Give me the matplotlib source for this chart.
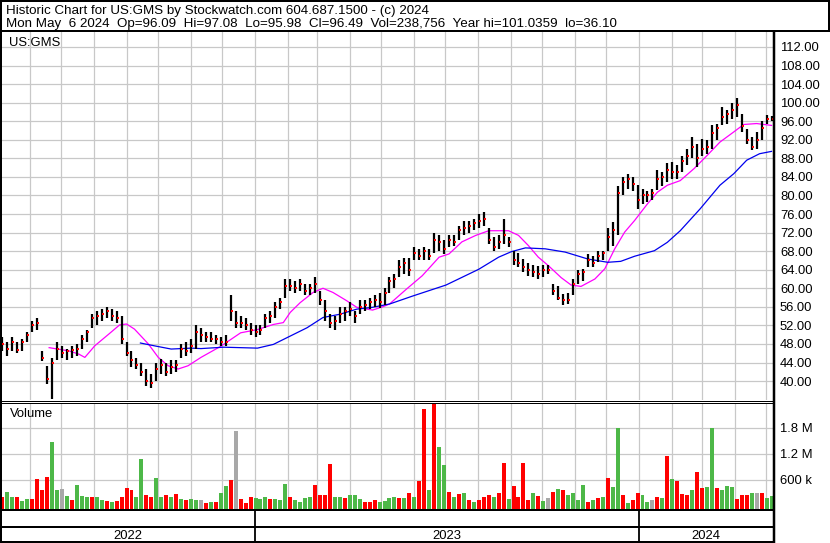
import numpy as np
import pandas as pd
import matplotlib
matplotlib.use('Agg')
import matplotlib.pyplot as plt

plt.rcParams['font.family'] = ['Liberation Sans', 'DejaVu Sans']

W, H = 830, 543

title_1 = 'Historic Chart for US:GMS by Stockwatch.com 604.687.1500 - (c) 2024'
title_2 = ('Mon May  6 2024  Op=96.09  Hi=97.08  Lo=95.98  Cl=96.49  '
           'Vol=238,756  Year hi=101.0359  lo=36.10')
symbol = 'US:GMS'
start_date = '2022-05-06'
end_date = '2024-05-06'

# price bars (every few sessions)
lows = [46.5, 45.5, 46.5, 46.0, 46.5, 48.5, 50.5, 51.0, 44.4, 39.3,
        36.1, 44.5, 45.0, 44.5, 45.0, 45.5, 47.0, 48.5, 51.5, 52.0,
        53.0, 53.5, 53.0, 52.5, 48.0, 45.5, 43.0, 42.5, 41.0, 39.0,
        38.4, 40.0, 41.5, 41.0, 41.5, 42.0, 45.0, 45.5, 46.0, 47.0,
        48.5, 48.5, 48.5, 48.0, 47.5, 47.5, 53.0, 51.5, 51.5, 51.0,
        50.0, 49.5, 50.0, 51.5, 52.5, 53.5, 55.5, 58.0, 59.5, 59.0,
        59.5, 58.5, 58.5, 59.0, 56.5, 53.0, 51.5, 51.0, 52.5, 53.0,
        54.0, 52.5, 54.5, 55.0, 55.5, 56.0, 55.8, 56.5, 59.0, 60.0,
        62.5, 63.0, 62.7, 66.0, 66.0, 66.0, 66.0, 67.5, 68.0, 67.4,
        69.0, 69.2, 70.5, 71.5, 72.0, 72.5, 73.0, 73.5, 69.5, 68.0,
        68.5, 69.5, 69.0, 65.0, 64.5, 63.5, 62.7, 62.5, 62.0, 62.5,
        63.0, 58.5, 57.5, 56.5, 56.7, 58.5, 61.0, 61.5, 64.5, 64.5,
        65.6, 66.0, 68.0, 69.2, 71.4, 80.0, 81.4, 81.0, 77.1, 78.2,
        78.5, 79.0, 81.1, 82.0, 82.9, 83.5, 83.6, 85.0, 86.5, 88.0,
        86.1, 88.6, 89.0, 90.1, 92.0, 95.1, 95.5, 96.5, 97.0, 93.7,
        91.0, 89.7, 90.0, 91.9, 95.5, 95.98]
highs = [49.5, 48.5, 49.5, 48.5, 49.0, 50.5, 53.0, 53.5, 46.5, 43.3,
         45.0, 48.5, 47.5, 47.0, 47.5, 48.0, 50.0, 51.0, 54.5, 55.0,
         55.5, 56.0, 55.5, 55.0, 54.0, 48.5, 46.5, 45.0, 44.0, 42.5,
         41.5, 44.0, 44.7, 44.0, 44.5, 44.5, 48.0, 48.5, 49.0, 52.0,
         51.5, 50.5, 50.5, 50.0, 49.5, 50.0, 58.5, 55.0, 54.0, 53.5,
         52.5, 52.0, 52.0, 54.5, 55.0, 57.0, 58.0, 62.0, 62.0, 61.5,
         62.0, 61.0, 61.0, 62.5, 59.5, 57.5, 54.5, 54.0, 56.0, 56.0,
         57.0, 55.0, 57.5, 57.5, 58.0, 58.5, 59.0, 60.0, 62.5, 63.0,
         66.0, 66.5, 66.5, 69.0, 68.5, 69.0, 68.5, 72.0, 71.5, 70.5,
         71.5, 71.5, 73.5, 74.5, 74.5, 75.0, 76.0, 76.4, 73.0, 71.0,
         71.5, 75.0, 71.0, 68.0, 67.5, 66.3, 65.5, 65.0, 64.9, 65.0,
         65.0, 61.0, 60.5, 58.7, 59.0, 62.0, 64.0, 64.2, 67.4, 67.0,
         68.1, 68.0, 73.0, 74.2, 82.0, 84.0, 84.7, 84.0, 82.2, 81.4,
         81.0, 81.4, 85.4, 85.0, 87.0, 87.2, 86.5, 88.5, 90.0, 92.6,
         91.0, 92.2, 92.0, 95.1, 95.5, 99.1, 98.5, 100.0, 101.0, 97.6,
         94.4, 92.5, 93.7, 96.0, 97.3, 97.08]
closes = [48.0, 47.0, 48.5, 46.8, 48.5, 50.0, 52.0, 52.5, 45.0, 40.5,
          44.0, 47.0, 46.0, 46.5, 46.8, 47.0, 49.0, 50.5, 53.5, 54.0,
          54.5, 55.0, 54.0, 53.5, 49.0, 46.0, 44.5, 43.5, 42.0, 40.0,
          39.5, 42.5, 43.5, 42.0, 43.0, 43.5, 47.0, 46.5, 47.5, 50.5,
          50.0, 49.5, 49.0, 49.0, 48.5, 48.5, 55.0, 52.5, 52.5, 52.0,
          51.0, 50.5, 51.0, 53.5, 54.0, 56.0, 57.0, 60.5, 60.5, 60.0,
          61.0, 59.5, 60.0, 61.0, 57.5, 55.0, 52.5, 53.0, 54.5, 55.0,
          55.5, 54.0, 56.0, 56.5, 57.0, 57.5, 57.0, 59.0, 61.5, 62.0,
          64.5, 65.5, 64.0, 67.5, 67.0, 68.0, 67.0, 70.5, 70.0, 68.5,
          70.5, 70.0, 72.5, 73.0, 73.5, 74.0, 74.5, 75.0, 70.5, 69.0,
          70.0, 71.5, 70.0, 66.0, 65.5, 64.5, 64.0, 63.5, 63.0, 64.0,
          64.0, 59.5, 58.0, 57.5, 57.5, 61.0, 63.0, 63.5, 66.0, 65.5,
          67.0, 67.5, 71.0, 72.5, 80.5, 83.0, 83.5, 82.5, 79.0, 80.0,
          80.0, 80.5, 83.5, 84.0, 85.5, 85.0, 85.0, 87.5, 88.5, 90.5,
          88.0, 90.0, 90.5, 93.5, 94.5, 97.0, 97.5, 98.5, 99.5, 95.0,
          92.0, 90.5, 92.0, 94.5, 96.5, 96.49]

# volume in millions, and direction of the day (g up, r down, n unchanged)
volumes = [0.20, 0.33, 0.20, 0.20, 0.12, 0.15, 0.15, 0.62, 0.37, 0.67,
           1.48, 0.37, 0.39, 0.22, 0.14, 0.48, 0.22, 0.20, 0.20, 0.20,
           0.13, 0.12, 0.10, 0.12, 0.20, 0.41, 0.37, 0.20, 1.08, 0.25,
           0.20, 0.64, 0.20, 0.25, 0.20, 0.28, 0.15, 0.14, 0.15, 0.14,
           0.14, 0.08, 0.10, 0.10, 0.30, 0.45, 0.60, 1.72, 0.16, 0.07,
           0.20, 0.18, 0.16, 0.20, 0.17, 0.16, 0.14, 0.50, 0.20, 0.14,
           0.10, 0.18, 0.20, 0.48, 0.25, 0.25, 0.97, 0.20, 0.20, 0.18,
           0.25, 0.25, 0.16, 0.10, 0.10, 0.14, 0.10, 0.12, 0.18, 0.20,
           0.18, 0.19, 0.29, 0.20, 0.58, 2.23, 0.38, 2.40, 1.36, 0.94,
           0.33, 0.20, 0.27, 0.30, 0.14, 0.10, 0.14, 0.20, 0.25, 0.20,
           0.29, 1.00, 0.15, 0.45, 0.20, 1.00, 0.14, 0.30, 0.22, 0.12,
           0.19, 0.33, 0.39, 0.36, 0.25, 0.29, 0.14, 0.48, 0.10, 0.14,
           0.18, 0.20, 0.64, 0.43, 1.80, 0.25, 0.07, 0.14, 0.29, 0.25,
           0.10, 0.14, 0.20, 0.18, 1.15, 0.62, 0.58, 0.28, 0.25, 0.37,
           0.79, 0.41, 0.43, 1.80, 0.41, 0.37, 0.45, 0.43, 0.17, 0.25,
           0.25, 0.29, 0.29, 0.29, 0.18, 0.24]
vol_dir = ''.join(['rggrggrrrr', 'ggngrgggrg', 'grgrrrrggr', 'rggrgrgrgg',
                   'nrgrggrnrr', 'rgggrgggrg', 'gggrrrrggr', 'gggrrrgggg',
                   'rgrgrrgrgg', 'rgrgrgrrrg', 'rrgrrrrgrg', 'nrgrggggrg',
                   'rgrggrgrrg', 'gnrgrgrrrg', 'rrggrgggrr', 'rgnrgg'])

# moving averages (bar position, value)
ma50_pos = [9.4, 13.4, 15.4, 16.6, 18.6, 21.4, 23.6, 25.0, 26.6, 29.4,
            31.4, 33.4, 35.4, 37.4, 40.0, 44.0, 48.0, 51.4, 54.6, 56.6,
            58.0, 60.0, 62.6, 64.6, 66.6, 69.4, 71.4, 74.6, 76.6, 78.0,
            81.4, 84.6, 88.0, 90.0, 92.6, 95.4, 98.0, 102.0, 104.0, 106.0,
            108.0, 110.0, 112.6, 114.6, 116.6, 119.4, 121.4, 123.4, 125.4, 127.4,
            130.0, 132.0, 134.0, 136.6, 139.4, 142.0, 144.6, 147.4, 149.4, 152.0,
            155.0]
ma50_val = [47.2, 46.5, 45.8, 45.1, 47.6, 50.1, 52.1, 52.3, 51.2, 48.0,
            45.1, 43.3, 42.6, 43.3, 45.1, 47.5, 50.4, 51.1, 52.2, 52.6,
            54.8, 56.9, 59.1, 60.0, 59.1, 57.3, 55.9, 55.3, 56.0, 56.6,
            59.8, 62.7, 66.7, 67.4, 70.0, 71.4, 72.4, 72.4, 71.4, 69.2,
            66.7, 64.9, 62.3, 60.7, 60.4, 62.0, 64.2, 68.5, 72.1, 74.6,
            78.2, 80.7, 82.2, 83.2, 85.8, 88.6, 91.5, 93.7, 95.3, 95.5,
            95.1]
ma200_pos = [27.8, 30.6, 34.0, 38.0, 40.0, 44.6, 51.4, 54.6, 58.0, 61.4,
             64.6, 68.0, 71.4, 74.6, 78.0, 82.6, 89.4, 96.0, 100.0, 102.6,
             105.4, 109.4, 113.4, 118.0, 122.0, 124.6, 127.4, 131.4, 134.0, 136.6,
             140.6, 144.6, 147.4, 150.0, 152.6, 155.0]
ma200_val = [48.2, 47.6, 46.9, 47.1, 47.0, 47.3, 47.1, 47.9, 49.7, 51.5,
             53.7, 54.4, 55.5, 55.9, 56.6, 58.3, 60.7, 64.1, 66.7, 67.9,
             68.7, 68.5, 67.8, 66.3, 65.6, 65.8, 66.9, 68.1, 69.9, 72.4,
             77.1, 82.2, 84.7, 87.6, 89.0, 89.5]

price_ticks = list(range(40, 113, 4))
vol_ticks = [0.6, 1.2, 1.8]
vol_tick_labels = ['600 k', '1.2 M', '1.8 M']
years = ['2022', '2023', '2024']

GRID = '#c8c8c8'
dir_colors = {'g': '#4db848', 'r': '#ff0000', 'n': '#a8a8a8'}
FS = 9.4       # axis labels
FS_HEAD = 9.6  # header lines

n = len(closes)
idx = np.arange(n)
dates = pd.date_range(start_date, end_date, periods=n)
month_starts = pd.date_range('2022-06-01', '2024-05-01', freq='MS')
month_pos = np.interp(month_starts.asi8, dates.asi8, idx)
year_pos = np.interp(pd.to_datetime(['2023-01-01', '2024-01-01']).asi8, dates.asi8, idx)
x_lo, x_hi = -0.3, n - 0.7

fig = plt.figure(figsize=(W / 100, H / 100), dpi=100)


def px_axes(x0, y0, x1, y1):
    return fig.add_axes([x0 / W, 1 - y1 / H, (x1 - x0) / W, (y1 - y0) / H])


# price panel
ax = px_axes(1, 32, 773, 400)
ax.set_xlim(x_lo, x_hi)
ax.set_ylim(35.92, 115.23)
ax.vlines(idx, lows, highs, color='black', lw=1.6, zorder=3)
ax.scatter(idx + 0.2, closes, marker='s', s=3, color='red', lw=0, zorder=4)
ax.plot(ma50_pos, ma50_val, color='#ff00ff', lw=0.9, zorder=2)
ax.plot(ma200_pos, ma200_val, color='#0000ee', lw=0.9, zorder=2)
ax.set_xticks(month_pos)
ax.set_xticklabels([])
ax.set_yticks(price_ticks)
ax.set_yticklabels(['%.2f' % p for p in price_ticks])
ax.yaxis.tick_right()
ax.tick_params(length=0, labelsize=FS, pad=5)
ax.grid(True, color=GRID, lw=0.9)
ax.set_axisbelow(True)
for s in ax.spines.values():
    s.set_visible(False)
ax.text(0.011, 0.962, symbol, transform=ax.transAxes, fontsize=FS, va='baseline')

# volume panel
axv = px_axes(1, 403, 773, 509)
axv.set_xlim(x_lo, x_hi)
v_lo, v_hi = -0.07, 2.377
axv.set_ylim(v_lo, v_hi)
axv.bar(idx, np.array(volumes) - v_lo, bottom=v_lo, width=0.8,
        color=[dir_colors[c] for c in vol_dir], zorder=2)
axv.set_xticks(month_pos)
axv.set_xticklabels([])
axv.set_yticks(vol_ticks)
axv.set_yticklabels(vol_tick_labels)
axv.yaxis.tick_right()
axv.tick_params(length=0, labelsize=FS, pad=5)
axv.grid(True, color=GRID, lw=0.9)
axv.set_axisbelow(True)
for s in axv.spines.values():
    s.set_visible(False)
axv.text(0.011, 0.87, 'Volume', transform=axv.transAxes, fontsize=FS, va='baseline')

# year strip
axs = px_axes(1, 510, 773, 542)
axs.set_xlim(x_lo, x_hi)
axs.set_ylim(0, 1)
axs.axis('off')
for p in year_pos:
    axs.axvline(p, color='black', lw=1.3)
edges = [x_lo] + list(year_pos) + [x_hi]
for k, label in enumerate(years):
    axs.text((edges[k] + edges[k + 1]) / 2, 0.08, label, ha='center',
             va='baseline', fontsize=FS)

# frame and header
ov = px_axes(0, 0, W, H)
ov.set_xlim(0, W)
ov.set_ylim(H, 0)
ov.axis('off')
ov.patch.set_alpha(0)


def hline(y, x0, x1, w):
    ov.plot([x0, x1], [y, y], color='black', lw=w * 0.72, solid_capstyle='butt')


def vline(x, y0, y1, w):
    ov.plot([x, x], [y0, y1], color='black', lw=w * 0.72, solid_capstyle='butt')


hline(1, 0, W, 2)
hline(31, 0, W, 2)
vline(1, 0, H, 2)
vline(829, 0, 32, 2)
vline(773.5, 31, H, 2.5)
hline(400.5, 0, 773, 1)
hline(402.5, 0, 773, 1)
hline(509.5, 0, 773, 2)
hline(527, 0, 773, 2)
hline(542, 0, 773, 2)

ov.text(6, 14, title_1, fontsize=FS_HEAD, va='baseline')
ov.text(6, 27.5, title_2, fontsize=FS_HEAD, va='baseline')

fig.savefig('out.png', dpi=100)
